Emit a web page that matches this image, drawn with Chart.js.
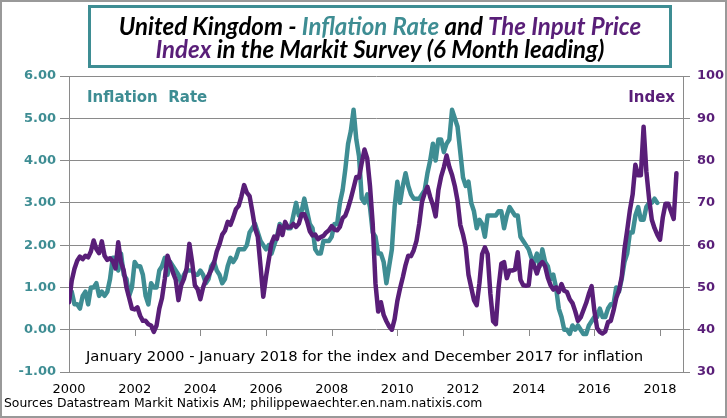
<!DOCTYPE html>
<html>
<head>
<meta charset="utf-8">
<script src="https://cdn.jsdelivr.net/npm/chart.js@4.4.1/dist/chart.umd.min.js"></script>
<style>
  html, body { margin: 0; padding: 0; background: #fff; }
  canvas { display: block; }
</style>
</head>
<body>
<canvas id="grafik" width="727" height="418"></canvas>
<script>
// UK CPI inflation, monthly Jan 2000 - Dec 2017 (left axis)
var inflation = [
    0.8, 0.9, 0.6, 0.6, 0.5, 0.8, 0.9, 0.6, 1.0, 1.0, 1.1, 0.8,
    0.9, 0.8, 0.9, 1.2, 1.7, 1.7, 1.4, 1.8, 1.3, 1.2, 0.8, 1.0,
    1.6, 1.5, 1.5, 1.3, 0.8, 0.6, 1.1, 1.0, 1.0, 1.4, 1.5, 1.7,
    1.3, 1.6, 1.5, 1.4, 1.3, 1.1, 1.3, 1.4, 1.4, 1.4, 1.3, 1.3,
    1.4, 1.3, 1.1, 1.2, 1.5, 1.6, 1.4, 1.3, 1.1, 1.2, 1.5, 1.7,
    1.6, 1.7, 1.9, 1.9, 1.9, 2.0, 2.3, 2.4, 2.5, 2.3, 2.1, 2.0,
    1.9, 2.0, 1.8, 2.0, 2.2, 2.5, 2.4, 2.5, 2.4, 2.4, 2.7, 3.0,
    2.7, 2.8, 3.1, 2.8, 2.5, 2.4, 1.9, 1.8, 1.8, 2.1, 2.1, 2.1,
    2.2, 2.5, 2.5, 3.0, 3.3, 3.8, 4.4, 4.7, 5.2, 4.5, 4.1, 3.1,
    3.0, 3.2, 2.9, 2.3, 2.2, 1.8, 1.8, 1.6, 1.1, 1.5, 1.9, 2.9,
    3.5, 3.0, 3.4, 3.7, 3.4, 3.2, 3.1, 3.1, 3.1, 3.2, 3.3, 3.7,
    4.0, 4.4, 4.0, 4.5, 4.5, 4.2, 4.4, 4.5, 5.2, 5.0, 4.8, 4.2,
    3.6, 3.4, 3.5, 3.0, 2.8, 2.4, 2.6, 2.5, 2.2, 2.7, 2.7, 2.7,
    2.7, 2.8, 2.8, 2.4, 2.7, 2.9, 2.8, 2.7, 2.7, 2.2, 2.1, 2.0,
    1.9, 1.7, 1.6, 1.8, 1.5, 1.9, 1.6, 1.5, 1.2, 1.3, 1.0, 0.5,
    0.3, 0.0, 0.0, -0.1, 0.1, 0.0, 0.1, 0.0, -0.1, -0.1, 0.1, 0.2,
    0.3, 0.3, 0.5, 0.3, 0.3, 0.5, 0.6, 0.6, 1.0, 0.9, 1.2, 1.6,
    1.8, 2.3, 2.3, 2.7, 2.9, 2.6, 2.6, 2.9, 3.0, 3.0, 3.1, 3.0
];
var inflationStart = 2000;

// Markit input price index, 6 months leading: plotted Jan 2000 - Jul 2018 (right axis)
var inputPrice = [
    46.5, 51.6, 54.4, 56.3, 57.3, 56.7, 57.5, 57.1, 58.5, 61.1, 59.1, 58.1,
    60.9, 57.5, 56.5, 56.9, 56.2, 54.5, 60.7, 56.0, 54.0, 50.0, 47.5, 45.0,
    44.8, 45.3, 43.3, 42.1, 42.1, 41.3, 41.0, 39.5, 41.0, 45.0, 47.5, 52.0,
    57.5, 55.5, 53.5, 51.8, 47.0, 50.5, 52.0, 54.5, 60.3, 56.0, 50.5, 49.6,
    47.2, 50.0, 51.8, 52.8, 54.1, 55.8, 58.5, 60.2, 62.5, 63.4, 65.5, 64.8,
    66.5, 68.5, 69.3, 71.5, 74.2, 72.4, 71.6, 68.0, 64.0, 62.0, 55.0, 47.8,
    52.5, 56.5, 60.4, 62.0, 61.5, 64.5, 62.4, 65.5, 64.2, 64.3, 65.0, 64.3,
    65.1, 67.3, 67.3, 65.7, 63.3, 62.3, 62.5, 61.4, 61.9, 62.2, 63.0, 63.5,
    64.5, 63.7, 63.5, 64.3, 66.4, 67.0, 68.8, 71.0, 73.5, 76.1, 76.0, 79.5,
    82.6, 80.5, 74.0, 65.0, 51.0, 44.3, 46.5, 43.5, 42.0, 40.8, 40.0, 42.5,
    46.8, 49.8, 52.4, 55.3, 57.5, 57.4, 58.8, 61.0, 65.0, 70.2, 72.3, 73.8,
    71.4, 69.5, 66.8, 73.0, 76.2, 78.4, 81.2, 78.5, 76.6, 74.0, 70.5, 64.8,
    62.5, 59.5, 53.0, 50.0, 47.0, 45.8, 51.0, 57.9, 59.5, 57.9, 48.5, 42.0,
    41.3, 50.0, 55.6, 56.0, 52.2, 54.0, 54.0, 54.2, 58.3, 51.8, 50.5, 50.4,
    50.5, 56.3, 55.2, 53.3, 55.3, 56.0, 55.0, 52.3, 50.5, 49.5, 50.0, 48.9,
    50.8, 49.2, 48.9, 47.2, 46.3, 44.4, 42.1, 42.9, 44.6, 46.3, 48.5, 50.3,
    44.5, 40.4, 39.5, 39.1, 39.6, 41.8, 42.1, 44.5, 47.5, 49.3, 52.5, 59.0,
    63.5, 68.3, 72.0, 79.0, 76.5, 76.5, 88.0, 77.5, 71.0, 66.0, 64.0, 62.5,
    61.3, 66.5, 69.8, 69.8, 68.0, 66.2, 77.0
];
var inputPriceStart = 2000;

var yearTicks = [2000, 2002, 2004, 2006, 2008, 2010, 2012, 2014, 2016, 2018];

var teal = '#3e8d93';
var purple = '#591e78';
var gridColor = '#8a8a8a';

function toPoints(values, start) {
    return values.map(function (v, i) {
        return { x: start + i / 12, y: v };
    });
}

// tick marks on the zero line + all texts / frames
var decor = {
    id: 'decor',
    beforeDatasetsDraw: function (chart) {
        var ctx = chart.ctx;
        var x = chart.scales.x, y = chart.scales.y;
        var y0 = Math.round(y.getPixelForValue(0));
        ctx.save();
        ctx.strokeStyle = gridColor;
        ctx.lineWidth = 1;
        yearTicks.forEach(function (t) {
            if (t === x.min) return;
            var px = Math.round(x.getPixelForValue(t)) + 0.5;
            ctx.beginPath();
            ctx.moveTo(px, y0);
            ctx.lineTo(px, y0 + 6);
            ctx.stroke();
        });
        ctx.restore();
    },
    afterDraw: function (chart) {
        var ctx = chart.ctx;
        ctx.save();

        // outer frame
        ctx.strokeStyle = '#999';
        ctx.lineWidth = 2;
        ctx.strokeRect(1, 1, 725, 416);

        // title box
        ctx.strokeStyle = teal;
        ctx.lineWidth = 3;
        ctx.strokeRect(89.5, 6.5, 581, 60);

        var titleLines = [
            [['United Kingdom - ', '#000'], ['Inflation Rate', teal], [' and ', '#000'], ['The Input Price', purple]],
            [['Index', purple], [' in the Markit Survey (6 Month leading)', '#000']]
        ];
        ctx.font = 'italic bold 24px Lato';
        ctx.textBaseline = 'alphabetic';
        ctx.textAlign = 'left';
        var baselines = [35, 58];
        titleLines.forEach(function (line, li) {
            var total = 0;
            line.forEach(function (seg) { total += ctx.measureText(seg[0]).width; });
            var cx = 380 - total / 2;
            line.forEach(function (seg) {
                ctx.fillStyle = seg[1];
                ctx.fillText(seg[0], cx, baselines[li]);
                cx += ctx.measureText(seg[0]).width;
            });
        });

        // series labels
        ctx.font = 'bold 15px "DejaVu Sans"';
        ctx.textBaseline = 'middle';
        ctx.fillStyle = teal;
        ctx.fillText('Inflation  Rate', 87, 98);
        ctx.fillStyle = purple;
        ctx.textAlign = 'right';
        ctx.fillText('Index', 675, 98);

        // period note
        ctx.font = '14.8px "DejaVu Sans"';
        ctx.fillStyle = '#000';
        ctx.textAlign = 'left';
        ctx.fillText('January 2000 - January 2018 for the index and December 2017 for inflation', 86, 357);

        // sources
        ctx.font = '12.4px "DejaVu Sans"';
        ctx.fillText('Sources Datastream Markit Natixis AM; philippewaechter.en.nam.natixis.com', 4, 404);

        ctx.restore();
    }
};

var ctx = document.getElementById('grafik').getContext('2d');
var chart = new Chart(ctx, {
    type: 'line',
    data: {
        datasets: [{
            label: 'Index',
            data: toPoints(inputPrice, inputPriceStart),
            yAxisID: 'y2',
            borderColor: purple,
            borderWidth: 4.5,
            pointRadius: 0,
            tension: 0,
            borderJoinStyle: 'round',
            borderCapStyle: 'round',
            order: 0
        }, {
            label: 'Inflation Rate',
            data: toPoints(inflation, inflationStart),
            yAxisID: 'y',
            borderColor: teal,
            borderWidth: 4.5,
            pointRadius: 0,
            tension: 0,
            borderJoinStyle: 'round',
            borderCapStyle: 'round',
            order: 1
        }]
    },
    options: {
        responsive: false,
        animation: false,
        layout: { padding: { top: 76, left: 0, right: 0, bottom: 0 } },
        plugins: {
            legend: { display: false },
            tooltip: { enabled: false }
        },
        scales: {
            x: {
                type: 'linear',
                min: 2000,
                max: 2018.7,
                afterBuildTicks: function (s) {
                    s.ticks = yearTicks.map(function (v) { return { value: v }; });
                },
                afterFit: function (s) { s.height = 46; },
                ticks: {
                    autoSkip: false,
                    maxRotation: 0,
                    padding: 10,
                    color: '#000',
                    font: { family: 'DejaVu Sans', size: 13 },
                    callback: function (v) { return String(v); }
                },
                grid: { display: false, drawTicks: false },
                border: { display: true, color: gridColor, width: 1 }
            },
            y: {
                position: 'left',
                min: -1,
                max: 6,
                afterFit: function (s) { s.width = 69; },
                ticks: {
                    stepSize: 1,
                    padding: 4,
                    color: teal,
                    font: { family: 'DejaVu Sans', size: 13, weight: 'bold' },
                    callback: function (v) { return v.toFixed(2); }
                },
                grid: { color: gridColor, tickLength: 9 },
                border: { display: true, color: gridColor }
            },
            y2: {
                position: 'right',
                min: 30,
                max: 100,
                afterFit: function (s) { s.width = 44; },
                ticks: {
                    stepSize: 10,
                    padding: 7,
                    color: purple,
                    font: { family: 'DejaVu Sans', size: 13, weight: 'bold' }
                },
                grid: { drawOnChartArea: false, color: gridColor, tickLength: 7 },
                border: { display: true, color: gridColor }
            }
        }
    },
    plugins: [decor]
});
</script>
</body>
</html>
